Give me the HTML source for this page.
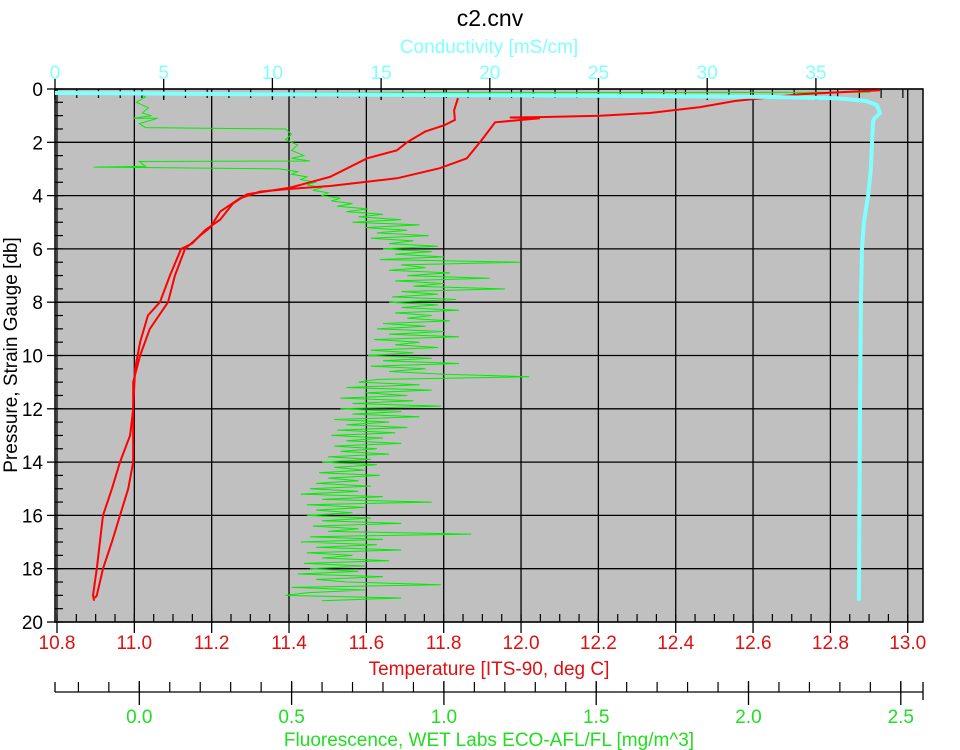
<!DOCTYPE html>
<html><head><meta charset="utf-8"><style>
html,body{margin:0;padding:0;background:#fff;}
svg{display:block;font-family:"Liberation Sans",sans-serif;}
</style></head><body>
<svg id="chart" width="960" height="750" viewBox="0 0 960 750" xmlns="http://www.w3.org/2000/svg">
<text x="490" y="26" font-size="23" text-anchor="middle" fill="#000">c2.cnv</text>
<text x="489" y="53" font-size="19" text-anchor="middle" fill="#80ffff">Conductivity [mS/cm]</text>
<text transform="translate(17,355) rotate(-90)" font-size="19" text-anchor="middle" fill="#000">Pressure, Strain Gauge [db]</text>
<text x="489" y="675" font-size="19" text-anchor="middle" fill="#dd1111">Temperature [ITS-90, deg C]</text>
<text x="489" y="746" font-size="19" text-anchor="middle" fill="#22dd22">Fluorescence, WET Labs ECO-AFL/FL [mg/m^3]</text>
<g id="layer"></g>
</svg>
<script>
// ---- data ----
var pTicks = [0,2,4,6,8,10,12,14,16,18,20];
var tTicks = [10.8,11.0,11.2,11.4,11.6,11.8,12.0,12.2,12.4,12.6,12.8,13.0];
var cTicks = [0,5,10,15,20,25,30,35];
var fTicks = [0.0,0.5,1.0,1.5,2.0,2.5];

var tempDownP = [0.34,0.8,1.16,1.35,1.6,2.0,2.3,2.6,3.3,3.5,3.7,3.95,4.3,4.9,5.3,5.8,6.0,7.0,8.0,8.5,9.5,10.5,12,13,14,15,16,17,18,19,19.2];
var tempDownT = [11.837,11.827,11.829,11.803,11.752,11.705,11.679,11.602,11.506,11.454,11.403,11.291,11.255,11.222,11.183,11.149,11.121,11.092,11.066,11.035,11.015,11.002,10.997,10.989,10.963,10.942,10.919,10.911,10.903,10.893,10.896];
var tempUpP = [0.05,0.2,0.45,0.68,0.9,1.0,1.05,1.07,1.1,1.25,1.9,2.6,2.97,3.35,3.64,3.75,3.85,4.1,4.6,5.2,5.5,6,7,8,9,10,11,14,15,16,17,18,19,19.1];
var tempUpT = [12.928,12.721,12.553,12.463,12.333,12.204,12.062,11.971,12.049,11.933,11.899,11.86,11.79,11.679,11.506,11.403,11.325,11.273,11.222,11.196,11.17,11.131,11.105,11.087,11.04,11.015,10.997,10.997,10.984,10.963,10.942,10.919,10.903,10.898];

var condP = [0.15,0.2,0.25,0.3,0.35,0.45,0.6,0.9,1.1,1.2,2,3,4,5,6,8,12,19.2];
var condC = [0,10,25,33,36,37.3,37.8,37.95,37.7,37.63,37.58,37.53,37.40,37.21,37.12,37.07,37.03,36.98];

var fluorTopP = [0.12,0.15,0.3,0.5,0.7,0.9,1.0,1.1,1.1,1.3,1.45,1.5,1.7,1.9,2.1,2.3,2.5,2.6,2.7,2.72,2.9,2.93];
var fluorTopF = [2.4,0.0,0.02,-0.01,0.03,0.01,0.04,-0.02,0.06,0.0,0.02,0.48,0.5,0.48,0.52,0.5,0.54,0.5,0.56,0.0,0.02,-0.15];
var fluorStartP = 3.0;
var fluorStepP = 0.1;
var fluorF = [0.46,0.52,0.50,0.55,0.53,0.58,0.55,0.60,0.57,0.62,
0.60,0.66,0.63,0.70,0.65,0.75,0.68,0.80,0.72,0.86,
0.70,0.92,0.74,0.88,0.78,0.95,0.76,0.90,0.82,0.98,
0.80,0.96,0.84,1.0,0.79,1.25,0.86,0.94,0.82,1.02,
0.88,1.15,0.84,1.0,0.90,1.2,0.86,0.98,0.83,1.04,
0.82,0.98,0.86,1.05,0.84,0.96,0.88,1.02,0.80,0.94,
0.78,1.0,0.82,1.05,0.77,0.92,0.84,0.98,0.76,0.90,
0.75,0.96,0.80,1.05,0.76,0.94,0.82,1.0,1.28,0.78,
0.72,0.92,0.68,0.96,0.74,0.88,0.66,0.90,0.70,0.99,
0.66,0.86,0.70,0.92,0.64,0.82,0.68,0.88,0.65,0.84,
0.63,0.80,0.68,0.86,0.64,0.78,0.66,0.82,0.62,0.76,
0.60,0.78,0.64,0.74,0.59,0.79,0.62,0.72,0.58,0.76,
0.56,0.72,0.53,0.80,0.60,0.96,0.55,0.74,0.58,0.70,
0.55,0.76,0.60,0.86,0.57,0.72,0.62,1.09,0.56,0.80,
0.53,0.78,0.58,0.86,0.55,0.70,0.60,0.82,0.54,0.74,
0.56,0.72,0.52,0.80,0.58,0.68,0.99,0.50,0.74,0.55,
0.48,0.86,0.60];

// ---- axes ----
var L=55,R=923,T=89,B=622;
function yP(p){return T+p*(B-T)/20;}
function xT(t){return 57+(t-10.8)*386.7;}
function xC(c){return 55+c*21.74;}
function xF(f){return 139.3+f*304.6;}
var NS='http://www.w3.org/2000/svg';
var layer=document.getElementById('layer');
function mk(tag,attrs,parent){var e=document.createElementNS(NS,tag);for(var k in attrs)e.setAttribute(k,attrs[k]);(parent||layer).appendChild(e);return e;}
function line(x1,y1,x2,y2,col,w,g){return mk('line',{x1:x1,y1:y1,x2:x2,y2:y2,stroke:col||'#000','stroke-width':w||1},g);}

var bg=mk('rect',{x:L,y:T,width:R-L,height:B-T,fill:'#c0c0c0'});



var grid=mk('g',{});


tTicks.forEach(function(t){var x=xT(t);line(x,T,x,B,'#000',1.3,grid);});
pTicks.forEach(function(p){var y=yP(p);line(L,y,R,y,'#000',1.3,grid);});

var ticks=mk('g',{});


// pressure
for(var p=0;p<=20.001;p+=0.5){var y=yP(p);line(L,y,L+8,y,'#000',1.2,ticks);}
pTicks.forEach(function(p){var y=yP(p);line(L-8,y,L,y,'#000',1.3,ticks);
 var tx=mk('text',{x:43,y:y+7,'font-size':19,'text-anchor':'end',fill:'#000'});tx.textContent=p;
 
 });
// temperature
for(var t=10.8;t<=13.0001;t+=0.05){var x=xT(t);line(x,B-8,x,B,'#000',1.2,ticks);}
tTicks.forEach(function(t){var x=xT(t);line(x,B,x,B+11,'#000',1.3,ticks);
 var tx=mk('text',{x:x,y:649,'font-size':19,'text-anchor':'middle',fill:'#dd1111'});tx.textContent=t.toFixed(1);
 
 });
// conductivity
for(var c=0;c<=39.001;c+=1){var x=xC(c);line(x,T,x,T+9,'#000',1.2,ticks);}
cTicks.forEach(function(c){var x=xC(c);line(x,T-11,x,T+11,'#000',1.3,ticks);
 var tx=mk('text',{x:x,y:79,'font-size':19,'text-anchor':'middle',fill:'#80ffff'});tx.textContent=c;
 
 });
// fluorescence axis
line(L,692,R,692,'#000',1.3,ticks);
line(L,682,L,692,'#000',1.3,ticks);line(R,682,R,700,'#000',1.3,ticks);
for(var f=-0.2;f<=2.6;f+=0.1){var x=xF(f);if(x>L&&x<R)line(x,682,x,692,'#000',1.2,ticks);}
fTicks.forEach(function(f){var x=xF(f);line(x,681,x,705,'#000',1.3,ticks);
 var tx=mk('text',{x:x,y:723,'font-size':19,'text-anchor':'middle',fill:'#22dd22'});tx.textContent=f.toFixed(1);
 
 });

var frame=mk('rect',{x:L,y:T,width:R-L,height:B-T,fill:'none',stroke:'#000','stroke-width':1.5});



// ---- series ----
function pts(ps,vs,fx){return ps.map(function(p,i){return fx(vs[i]).toFixed(1)+','+yP(p).toFixed(1);}).join(' ');}
var fP=fluorTopP.slice(),fV=fluorTopF.slice();
fluorF.forEach(function(v,i){fP.push(fluorStartP+i*fluorStepP);fV.push(v);});
var gF=mk('polyline',{points:pts(fP,fV,xF),fill:'none',stroke:'#00ee00','stroke-width':1});


var gA=mk('polyline',{points:pts(tempDownP,tempDownT,xT),fill:'none',stroke:'#ff0000','stroke-width':2});


var gB=mk('polyline',{points:pts(tempUpP,tempUpT,xT),fill:'none',stroke:'#ff0000','stroke-width':2});


var gC=mk('polyline',{points:pts(condP,condC,xC),fill:'none',stroke:'#80ffff','stroke-width':4,'stroke-linejoin':'round'});


</script>
</body></html>
